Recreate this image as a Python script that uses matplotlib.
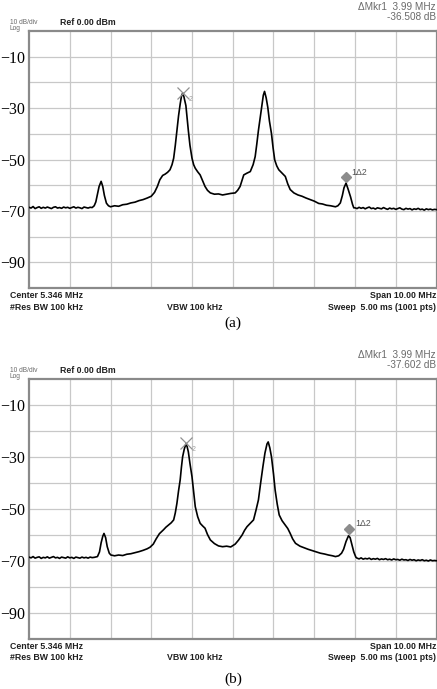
import matplotlib
matplotlib.use("Agg")
import matplotlib.pyplot as plt

W, H = 437, 689
CENTER = 5.346
SPAN = 10.0
F0 = CENTER - SPAN / 2

# ---- data (offset from left edge in MHz, level in dBm) ----
offset_a = [0.00, 0.05, 0.10, 0.15, 0.20, 0.25, 0.30, 0.35, 0.40, 0.45, 0.50, 0.55, 0.60, 0.65, 0.70, 0.75,
            0.80, 0.85, 0.90, 0.95, 1.00, 1.05, 1.10, 1.15, 1.20, 1.25, 1.30, 1.35, 1.40, 1.45, 1.50, 1.55,
            1.60, 1.64, 1.68, 1.72, 1.77, 1.81, 1.85, 1.90, 1.95, 2.00, 2.10, 2.20, 2.30, 2.40, 2.50, 2.60,
            2.70, 2.80, 2.90, 3.00, 3.08, 3.15, 3.21, 3.28, 3.34, 3.40, 3.46, 3.51, 3.55, 3.59, 3.63, 3.67,
            3.71, 3.74, 3.77, 3.80, 3.83, 3.85, 3.88, 3.91, 3.95, 4.00, 4.04, 4.08, 4.14, 4.20, 4.26, 4.32,
            4.38, 4.45, 4.55, 4.65, 4.75, 4.85, 4.95, 5.06, 5.12, 5.18, 5.23, 5.27, 5.35, 5.43, 5.50, 5.55,
            5.59, 5.63, 5.68, 5.72, 5.75, 5.78, 5.82, 5.86, 5.90, 5.95, 5.99, 6.03, 6.08, 6.13, 6.21, 6.29,
            6.35, 6.41, 6.50, 6.60, 6.70, 6.80, 6.90, 7.00, 7.11, 7.20, 7.30, 7.40, 7.52, 7.58, 7.64, 7.69,
            7.73, 7.78, 7.83, 7.89, 7.94, 7.97,
            8.00, 8.05, 8.10, 8.15, 8.20, 8.25, 8.30, 8.35, 8.40, 8.45, 8.50, 8.55, 8.60, 8.65, 8.70, 8.75,
            8.80, 8.85, 8.90, 8.95, 9.00, 9.05, 9.10, 9.15, 9.20, 9.25, 9.30, 9.35, 9.40, 9.45, 9.50, 9.55,
            9.60, 9.65, 9.70, 9.75, 9.80, 9.85, 9.90, 9.95, 10.00]
level_a = [-68.6, -68.9, -68.3, -69.1, -68.7, -68.4, -69.0, -68.6, -68.9, -68.5, -68.8, -69.1, -68.6, -68.4, -68.9, -68.7,
           -69.0, -68.5, -68.8, -68.6, -69.0, -68.7, -68.4, -68.9, -68.6, -68.8, -69.1, -68.5, -68.7, -68.9, -68.6, -68.7,
           -68.0, -66.5, -63.5, -60.5, -58.5, -60.5, -64.0, -67.0, -68.0, -68.4, -68.0, -68.2, -67.6, -67.4, -66.9, -66.6,
           -66.0, -65.6, -65.0, -64.3, -62.8, -60.5, -57.9, -56.2, -55.7, -55.0, -54.0, -52.0, -49.5, -44.5, -38.7, -33.0,
           -28.4, -25.5, -24.2, -25.5, -27.5, -29.0, -34.0, -38.7, -44.5, -49.5, -52.0, -53.4, -54.8, -56.0, -58.3, -60.5,
           -62.0, -63.0, -63.5, -63.4, -63.8, -63.5, -63.2, -63.0, -62.0, -60.5, -58.0, -56.0, -55.3, -54.7, -52.0, -48.9,
           -44.0, -38.7, -33.0, -28.4, -25.0, -23.5, -26.0, -29.7, -35.0, -39.9, -45.5, -50.2, -52.5, -54.0, -55.3, -56.6,
           -59.5, -61.7, -63.0, -63.8, -64.3, -65.0, -65.6, -66.2, -67.1, -67.3, -67.8, -68.0, -68.4, -68.0, -66.9, -64.0,
           -61.0, -59.2, -61.5, -64.5, -67.5, -68.8,
           -68.8, -69.1, -68.6, -69.0, -68.7, -69.2, -68.8, -68.5, -69.1, -68.9, -69.3, -68.8, -69.0, -69.2, -68.7, -69.1,
           -69.4, -68.9, -69.2, -69.0, -69.4, -69.1, -68.8, -69.3, -69.5, -69.0, -69.3, -69.1, -69.6, -69.2, -69.4, -69.0,
           -69.5, -69.3, -69.7, -69.2, -69.5, -69.3, -69.6, -69.4, -69.5]

offset_b = [0.00, 0.05, 0.10, 0.15, 0.20, 0.25, 0.30, 0.35, 0.40, 0.45, 0.50, 0.55, 0.60, 0.65, 0.70, 0.75,
            0.80, 0.85, 0.90, 0.95, 1.00, 1.05, 1.10, 1.15, 1.20, 1.25, 1.30, 1.35, 1.40, 1.45, 1.50, 1.55,
            1.60, 1.68, 1.73, 1.77, 1.81, 1.84, 1.88, 1.92, 1.97, 2.01, 2.10, 2.20, 2.30, 2.40, 2.50, 2.60,
            2.70, 2.80, 2.90, 2.97, 3.05, 3.12, 3.20, 3.30, 3.36, 3.42, 3.49, 3.55, 3.59, 3.63, 3.67, 3.71,
            3.74, 3.77, 3.81, 3.85, 3.88, 3.91, 3.95, 4.00, 4.04, 4.08, 4.14, 4.20, 4.26, 4.32, 4.38, 4.45,
            4.55, 4.65, 4.75, 4.85, 4.95, 5.06, 5.14, 5.23, 5.29, 5.35, 5.43, 5.51, 5.57, 5.63, 5.68, 5.74,
            5.79, 5.84, 5.87, 5.91, 5.95, 6.00, 6.04, 6.09, 6.14, 6.21, 6.29, 6.35, 6.41, 6.47, 6.54, 6.65,
            6.75, 6.85, 6.95, 7.05, 7.15, 7.25, 7.35, 7.45, 7.52, 7.60, 7.67, 7.72, 7.78, 7.84, 7.88, 7.92,
            7.97, 8.02,
            8.05, 8.10, 8.15, 8.20, 8.25, 8.30, 8.35, 8.40, 8.45, 8.50, 8.55, 8.60, 8.65, 8.70, 8.75, 8.80,
            8.85, 8.90, 8.95, 9.00, 9.05, 9.10, 9.15, 9.20, 9.25, 9.30, 9.35, 9.40, 9.45, 9.50, 9.55, 9.60,
            9.65, 9.70, 9.75, 9.80, 9.85, 9.90, 9.95, 10.00]
level_b = [-68.5, -68.8, -68.3, -68.9, -68.6, -68.4, -69.0, -68.6, -68.8, -68.4, -68.9, -68.6, -68.3, -68.8, -68.6, -69.0,
           -68.5, -68.7, -68.9, -68.4, -68.8, -68.6, -69.0, -68.5, -68.7, -68.9, -68.5, -68.8, -68.6, -68.9, -68.5, -68.7,
           -68.6, -68.3, -66.5, -63.0, -60.5, -59.4, -61.0, -64.5, -67.0, -67.7, -68.0, -67.7, -67.9, -67.4, -67.2, -66.8,
           -66.4, -65.9, -65.3, -64.7, -63.5, -61.5, -59.5, -58.0, -57.0, -56.2, -55.3, -54.2, -51.5, -47.8, -43.0, -38.8,
           -34.0, -29.9, -27.0, -25.0, -26.0, -28.0, -32.5, -37.6, -43.5, -49.1, -53.0, -55.5, -56.5, -57.4, -59.8, -61.9,
           -63.3, -64.2, -64.5, -64.3, -64.6, -63.5, -62.0, -60.0, -58.2, -56.8, -55.5, -54.2, -50.5, -46.5, -40.5, -33.7,
           -28.5, -25.0, -24.2, -26.5, -29.9, -36.5, -42.7, -48.0, -52.3, -54.5, -56.2, -57.5, -59.4, -61.5, -63.2, -64.3,
           -64.9, -65.5, -66.0, -66.5, -67.0, -67.3, -67.7, -68.0, -68.3, -68.0, -67.0, -65.5, -62.5, -60.3, -61.0, -63.5,
           -66.5, -68.5,
           -68.9, -69.2, -68.8, -69.3, -69.0, -69.2, -68.9, -69.4, -69.1, -69.3, -69.0, -69.5, -69.2, -69.4, -69.1, -69.5,
           -69.3, -69.6, -69.2, -69.5, -69.4, -69.7, -69.3, -69.6, -69.5, -69.8, -69.4, -69.7, -69.5, -69.9, -69.6, -69.8,
           -69.5, -69.9, -69.7, -70.0, -69.6, -69.9, -69.8, -69.9]

# marker positions (offset MHz, level dBm)
mkr2_a = (3.77, -24.0)
mkr1_a = (7.78, -57.0)
mkr2_b = (3.85, -24.5)
mkr1_b = (7.86, -57.5)

delta_a = ["\u0394Mkr1  3.99 MHz", "-36.508 dB"]
delta_b = ["\u0394Mkr1  3.99 MHz", "-37.602 dB"]
ytick_vals = [-10, -30, -50, -70, -90]
ytick_labels = ["\u221210", "\u221230", "\u221250", "\u221270", "\u221290"]
captions = ["(a)", "(b)"]

fig = plt.figure(figsize=(W / 100, H / 100), dpi=100)

def fx(x):
    return x / W

def fy(y):
    return 1 - y / H

grey_txt = "#6a6a6a"
sans = ["Liberation Sans", "DejaVu Sans"]
serif = ["Liberation Serif", "DejaVu Serif"]

def panel(top, bottom, offs, levels, mkr2, mkr1, delta, caption, cap_y):
    left, right = 29, 436.5
    ax = fig.add_axes([fx(left), fy(bottom), (right - left) / W, (bottom - top) / H])
    freqs = [F0 + o for o in offs]
    ax.plot(freqs, levels, color="black", lw=1.2, zorder=3)
    ax.set_xlim(F0, F0 + SPAN)
    ax.set_ylim(-100, 0)
    ax.set_xticks([F0 + i for i in range(1, 10)])
    ax.set_xticklabels([])
    ax.set_yticks(ytick_vals)
    ax.set_yticklabels(ytick_labels, family=serif, fontsize=11.5)
    ax.set_yticks([-20, -40, -60, -80], minor=True)
    ax.tick_params(axis="both", which="both", length=0, pad=3)
    ax.grid(True, which="both", color="#c8c8c8", lw=0.9)
    for s in ax.spines.values():
        s.set_color("#8a8a8a")
        s.set_linewidth(1.6)
    # marker 2 (open) at main peak
    ax.plot([F0 + mkr2[0]], [mkr2[1]], marker="x", ms=8, mew=0.9, color="#909090", zorder=4)
    ax.text(F0 + mkr2[0] + 0.14, mkr2[1] - 2.5, "2", fontsize=5, color="#a0a0a0", family=sans,
            va="center", ha="left", zorder=4)
    # marker 1 delta 2 (filled diamond)
    ax.plot([F0 + mkr1[0]], [mkr1[1]], marker="D", ms=5, color="#8c8c8c", mec="#8c8c8c", zorder=4)
    ax.text(F0 + mkr1[0] + 0.14, mkr1[1] + 1.8, "1\u03942", fontsize=6.3, color="#505050", family=sans,
            va="center", ha="left", zorder=4)

    # header texts
    fig.text(fx(10), fy(top - 8.5), "10 dB/div", fontsize=4.8, color=grey_txt, family=sans, va="center")
    fig.text(fx(10), fy(top - 2.2), "Log", fontsize=4.8, color=grey_txt, family=sans, va="center")
    fig.text(fx(60), fy(top - 8.5), "Ref 0.00 dBm", fontsize=6.3, fontweight="bold", color="#202020",
             family=sans, va="center")
    fig.text(fx(436), fy(top - 24.5), delta[0], fontsize=7.2, color=grey_txt, family=sans, va="center", ha="right")
    fig.text(fx(436), fy(top - 14.5), delta[1], fontsize=7.2, color=grey_txt, family=sans, va="center", ha="right")

    # footer texts
    fig.text(fx(10), fy(bottom + 7.5), "Center 5.346 MHz", fontsize=6.3, fontweight="bold", color="#202020",
             family=sans, va="center")
    fig.text(fx(10), fy(bottom + 19), "#Res BW 100 kHz", fontsize=6.3, fontweight="bold", color="#202020",
             family=sans, va="center")
    fig.text(fx(195), fy(bottom + 19), "VBW 100 kHz", fontsize=6.3, fontweight="bold", color="#202020",
             family=sans, va="center", ha="center")
    fig.text(fx(436), fy(bottom + 7.5), "Span 10.00 MHz", fontsize=6.3, fontweight="bold", color="#202020",
             family=sans, va="center", ha="right")
    fig.text(fx(436), fy(bottom + 19), "Sweep  5.00 ms (1001 pts)", fontsize=6.3, fontweight="bold",
             color="#202020", family=sans, va="center", ha="right")
    fig.text(fx(233), fy(cap_y), caption, fontsize=11, family=serif, va="center", ha="center")
    return ax

panel(31, 288, offset_a, level_a, mkr2_a, mkr1_a, delta_a, captions[0], 323)
panel(379, 639, offset_b, level_b, mkr2_b, mkr1_b, delta_b, captions[1], 679)

fig.savefig("out.png", dpi=100)
